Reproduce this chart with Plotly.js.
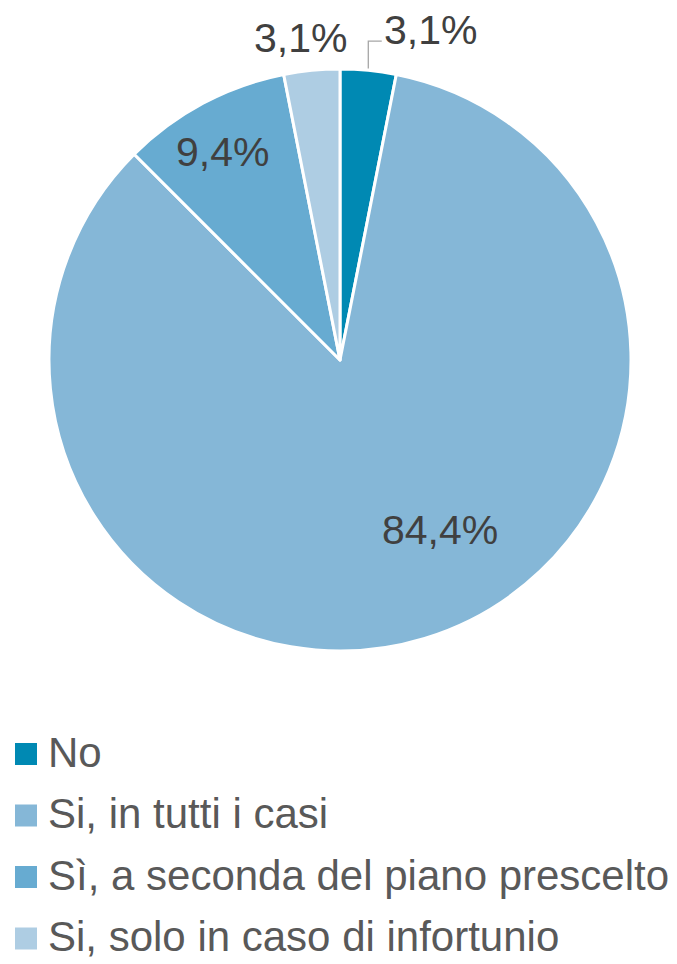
<!DOCTYPE html>
<html>
<head>
<meta charset="utf-8">
<script src="https://cdn.plot.ly/plotly-3.0.1.min.js"></script>
<style>html,body{margin:0;padding:0;background:#fff;}#chart{width:677px;height:964px;}</style>
</head>
<body>
<div id="chart"></div>
<script>
const categories = ["No", "Si, in tutti i casi", "Sì, a seconda del piano prescelto", "Si, solo in caso di infortunio"];
const values = [3.1, 84.4, 9.4, 3.1];
const colors = ["#0089B3", "#85B7D7", "#67ABD1", "#AECDE3"];

// label placement (style only): angle shift in degrees from the slice middle, radius as fraction of pie radius
const labelAngleShift = [9.8, -13.5, -1.4, -1.5];
const labelRadius = [1.176, 0.677, 0.82, 1.115];
const labelLeader = [true, false, false, false];

const W = 677, H = 964;
const cx = 340, cy = 360, R = 291;
const FONT = "Liberation Sans, Arial, sans-serif";

const trace = {
  type: "pie",
  labels: categories,
  values: values,
  sort: false,
  direction: "clockwise",
  rotation: 0,
  marker: { colors: colors, line: { color: "#ffffff", width: 3 } },
  textinfo: "none",
  automargin: false,
  hoverinfo: "label+percent",
  showlegend: false,
  domain: { x: [(cx - R) / W, (cx + R) / W], y: [1 - (cy + R) / H, 1 - (cy - R) / H] }
};

const shapes = [], annotations = [];
const px = x => x / W, py = y => 1 - y / H;

// data labels, positioned from each slice's angle
const total = values.reduce((a, b) => a + b, 0);
let cum = 0;
values.forEach((v, i) => {
  const mid = (cum + v / 2) / total * 2 * Math.PI;
  cum += v;
  const a = mid + labelAngleShift[i] * Math.PI / 180;
  const r = labelRadius[i] * R;
  const lx = cx + r * Math.sin(a), ly = cy - r * Math.cos(a);
  annotations.push({ xref: "paper", yref: "paper", x: px(lx), y: py(ly),
    xanchor: "center", yanchor: "middle", showarrow: false,
    text: v.toFixed(1).replace(".", ",") + "%",
    font: { family: FONT, size: 41, color: "#404040" } });
  if (labelLeader[i]) {
    const ex = cx + R * Math.sin(mid), ey = cy - R * Math.cos(mid);
    const hy = ly + 11, hx = lx - 49;
    shapes.push({ type: "path", xref: "paper", yref: "paper",
      path: `M ${px(ex)} ${py(ey - 2)} L ${px(ex)} ${py(hy)} L ${px(hx)} ${py(hy)}`,
      line: { color: "#A6A6A6", width: 1.3 } });
  }
});

// legend built from categories/colors
const legTop = 743, legStep = 61.5, sw = 22, legX = 15;
categories.forEach((c, i) => {
  const top = legTop + i * legStep;
  shapes.push({ type: "rect", xref: "paper", yref: "paper",
    x0: px(legX), x1: px(legX + sw), y0: py(top + sw), y1: py(top),
    fillcolor: colors[i], line: { width: 0 } });
  annotations.push({ xref: "paper", yref: "paper", x: px(46), y: py(top + sw / 2 - 2),
    xanchor: "left", yanchor: "middle", showarrow: false, text: c,
    font: { family: FONT, size: 42, color: "#595959" } });
});

const layout = {
  width: W, height: H,
  margin: { l: 0, r: 0, t: 0, b: 0 },
  paper_bgcolor: "#ffffff",
  separators: ",.",
  showlegend: false,
  shapes: shapes,
  annotations: annotations
};

Plotly.newPlot("chart", [trace], layout, { displayModeBar: false, staticPlot: true });
</script>
</body>
</html>
